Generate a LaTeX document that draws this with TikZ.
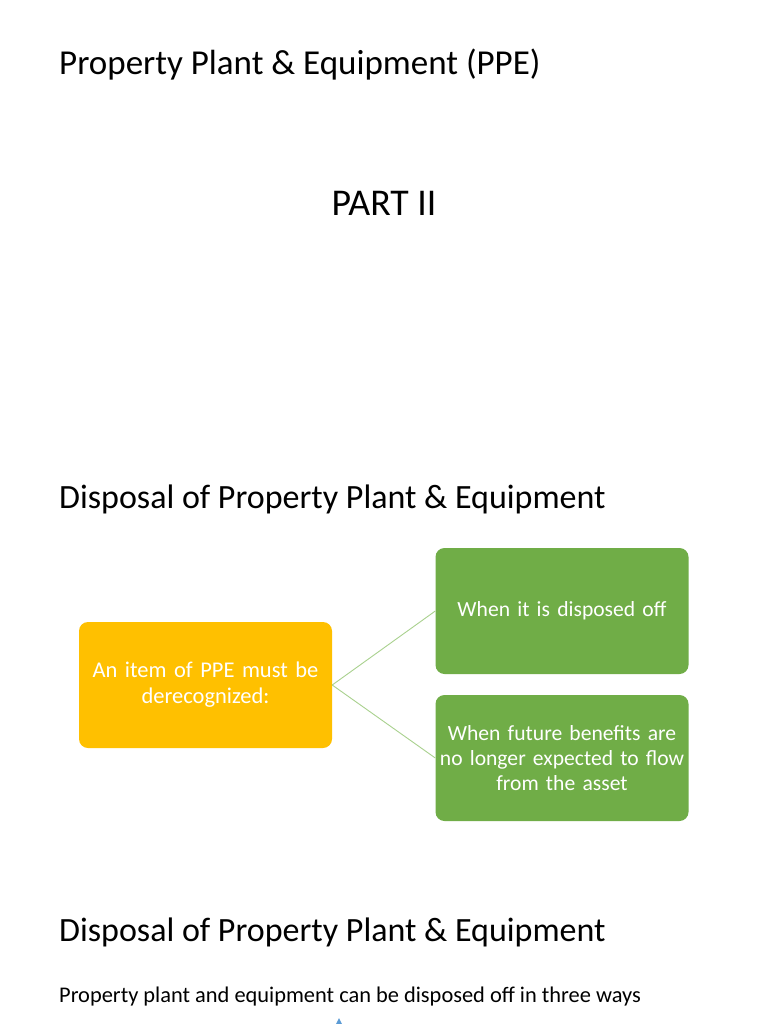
\documentclass[tikz,border=0pt]{standalone}
\usepackage{fontspec}
\setmainfont{Carlito}
\usepackage{tikz}
\usetikzlibrary{positioning}
\definecolor{ppeorange}{HTML}{FFC000}
\definecolor{ppegreen}{HTML}{70AD47}
\definecolor{ppelink}{HTML}{A9D18E}
\definecolor{ppeblue}{HTML}{5B9BD5}

\begin{document}
\begin{tikzpicture}[x=1pt, y=-1pt,
    heading/.style={anchor=base west, inner sep=0pt, font=\fontsize{34}{41}\selectfont},
    box/.style={rectangle, fill=#1, rounded corners=9pt, minimum width=253pt,
                minimum height=126pt, text width=245pt, align=center, text=white,
                font=\fontsize{21.6}{25}\selectfont, inner sep=0pt},
    link/.style={draw=ppelink, line width=0.9pt}
]
\useasboundingbox[fill=white] (0,0) rectangle (768,1024);

\node[heading, font=\fontsize{35}{42}\selectfont] (title) at (59,75) {Property Plant \& Equipment (PPE)};
\node[anchor=base, inner sep=0pt, font=\fontsize{37.8}{45}\selectfont] (part) at (384,216) {PART II};

\node[heading] (disp1) at (59,508) {Disposal of Property Plant \& Equipment};
\node[box=ppeorange, font=\fontsize{22.5}{26}\selectfont] (item) at (205.5,685) {An item of PPE must be\\derecognized:};
\node[box=ppegreen] (sold) at (562,611) {When it is disposed off};
\node[box=ppegreen] (nobenefit) at (562,758) {When future benefits are\\no longer expected to flow\\from the asset};

\draw[link] (item.east) -- (sold.west);
\draw[link] (item.east) -- (nobenefit.west);

\node[heading] (disp2) at (59,941) {Disposal of Property Plant \& Equipment};
\node[anchor=base west, inner sep=0pt, font=\fontsize{22.4}{27}\selectfont] (ways) at (59,1002) {Property plant and equipment can be disposed off in three ways};

% top of the next shape, cut off by the page
\fill[ppeblue] (339,1018) -- (342.5,1025) -- (335.5,1025) -- cycle;
\end{tikzpicture}
\end{document}
